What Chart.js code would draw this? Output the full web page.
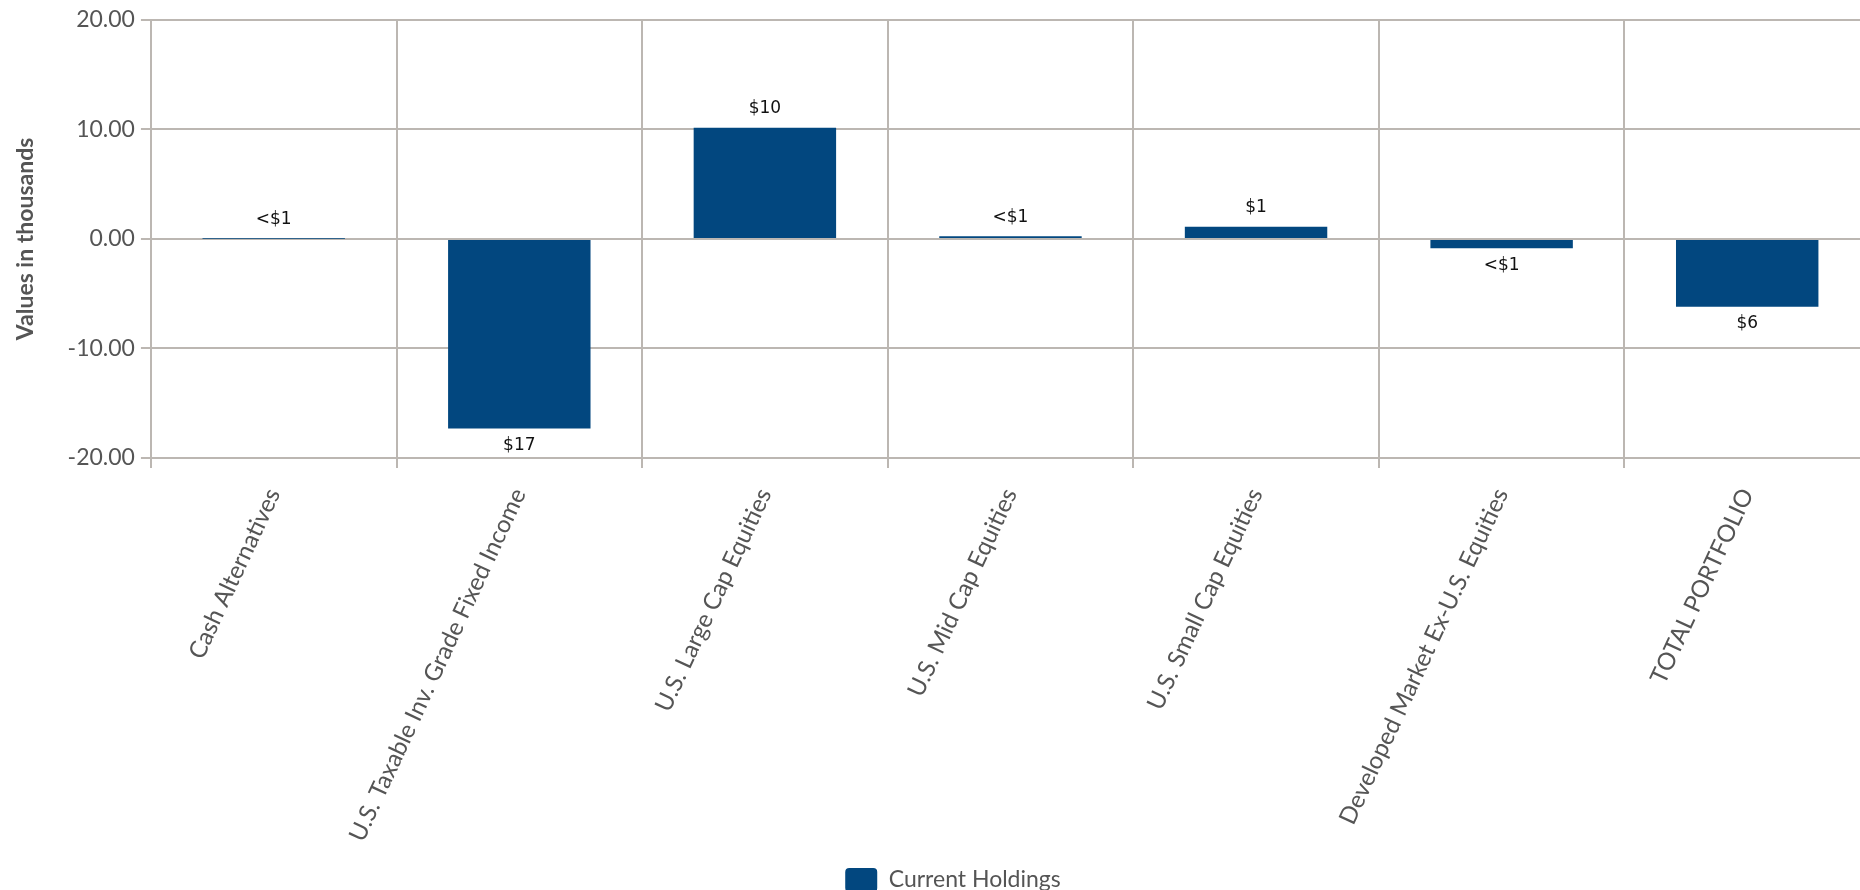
<!DOCTYPE html>
<html>
<head>
<meta charset="utf-8">
<script src="https://cdn.jsdelivr.net/npm/chart.js@4/dist/chart.umd.min.js"></script>
<style>
    html, body { margin: 0; padding: 0; background: #fff; overflow: hidden; }
    #wrap { position: absolute; left: 0; top: 0; width: 1926px; height: 902px; }
</style>
</head>
<body>
<div id="wrap"><canvas id="holdingsChart" width="1926" height="902"></canvas></div>
<script>
const categories = [
    'Cash Alternatives',
    'U.S. Taxable Inv. Grade Fixed Income',
    'U.S. Large Cap Equities',
    'U.S. Mid Cap Equities',
    'U.S. Small Cap Equities',
    'Developed Market Ex-U.S. Equities',
    'TOTAL PORTFOLIO'
];
const currentHoldings = [0.004, -17.3, 10.15, 0.25, 1.12, -0.86, -6.2];
const valueLabels = ['<$1', '$17', '$10', '<$1', '$1', '<$1', '$6'];
const yTicks = [-20, -10, 0, 10, 20];

const gridColor = '#bcb7b2';
const textGray = '#555555';

// draws the $ labels above positive bars and below negative ones
const barLabels = {
    id: 'barLabels',
    afterLayout(chart) {
        // nudge the legend a bit right, like the original
        chart.legend.left += 12;
        chart.legend.right += 12;
    },
    afterDatasetsDraw(chart) {
        const ctx = chart.ctx;
        const meta = chart.getDatasetMeta(0);
        ctx.save();
        ctx.font = '17px "DejaVu Sans", sans-serif';
        ctx.fillStyle = '#111';
        ctx.textAlign = 'center';
        ctx.textBaseline = 'middle';
        meta.data.forEach((bar, i) => {
            const v = currentHoldings[i];
            const y = v >= 0 ? bar.y - 19 : bar.y + 17;
            ctx.fillText(valueLabels[i], bar.x, y);
        });
        ctx.restore();
    }
};

function initChart() {
    const ctx = document.getElementById('holdingsChart').getContext('2d');

    new Chart(ctx, {
        type: 'bar',
        data: {
            labels: categories,
            datasets: [{
                label: 'Current Holdings',
                data: currentHoldings,
                backgroundColor: '#02477f',
                borderWidth: 0,
                barPercentage: 0.58,
                categoryPercentage: 1.0
            }]
        },
        options: {
            responsive: false,
            animation: false,
            layout: { padding: { top: 17, left: 12, right: 56, bottom: 0 } },
            plugins: {
                legend: {
                    position: 'bottom',
                    labels: {
                        boxWidth: 32,
                        boxHeight: 24,
                        useBorderRadius: true,
                        borderRadius: 4,
                        color: textGray,
                        padding: 10,
                        font: { family: 'Lato, sans-serif', size: 23 }
                    }
                },
                tooltip: { enabled: false }
            },
            scales: {
                x: {
                    afterFit: (axis) => { axis.height = 400; },
                    grid: { color: gridColor, lineWidth: 2, tickLength: 10, offset: true },
                    border: { color: gridColor, width: 2 },
                    ticks: {
                        color: textGray,
                        minRotation: 65,
                        maxRotation: 65,
                        autoSkip: false,
                        padding: 16,
                        font: { family: 'Lato, sans-serif', size: 24 }
                    }
                },
                y: {
                    min: -20,
                    max: 20,
                    afterBuildTicks: (axis) => {
                        axis.ticks = yTicks.map(v => ({ value: v }));
                    },
                    grid: { color: gridColor, lineWidth: 2, tickLength: 10 },
                    border: { color: gridColor, width: 2 },
                    ticks: {
                        color: textGray,
                        padding: 6,
                        font: { family: 'Lato, sans-serif', size: 23 },
                        callback: (v) => Number(v).toFixed(2)
                    },
                    title: {
                        display: true,
                        text: 'Values in thousands',
                        color: textGray,
                        padding: { top: 0, bottom: 22 },
                        font: { family: 'Lato, sans-serif', size: 23, weight: 'bold' }
                    }
                }
            }
        },
        plugins: [barLabels]
    });
}

document.addEventListener('DOMContentLoaded', initChart);
</script>
</body>
</html>
